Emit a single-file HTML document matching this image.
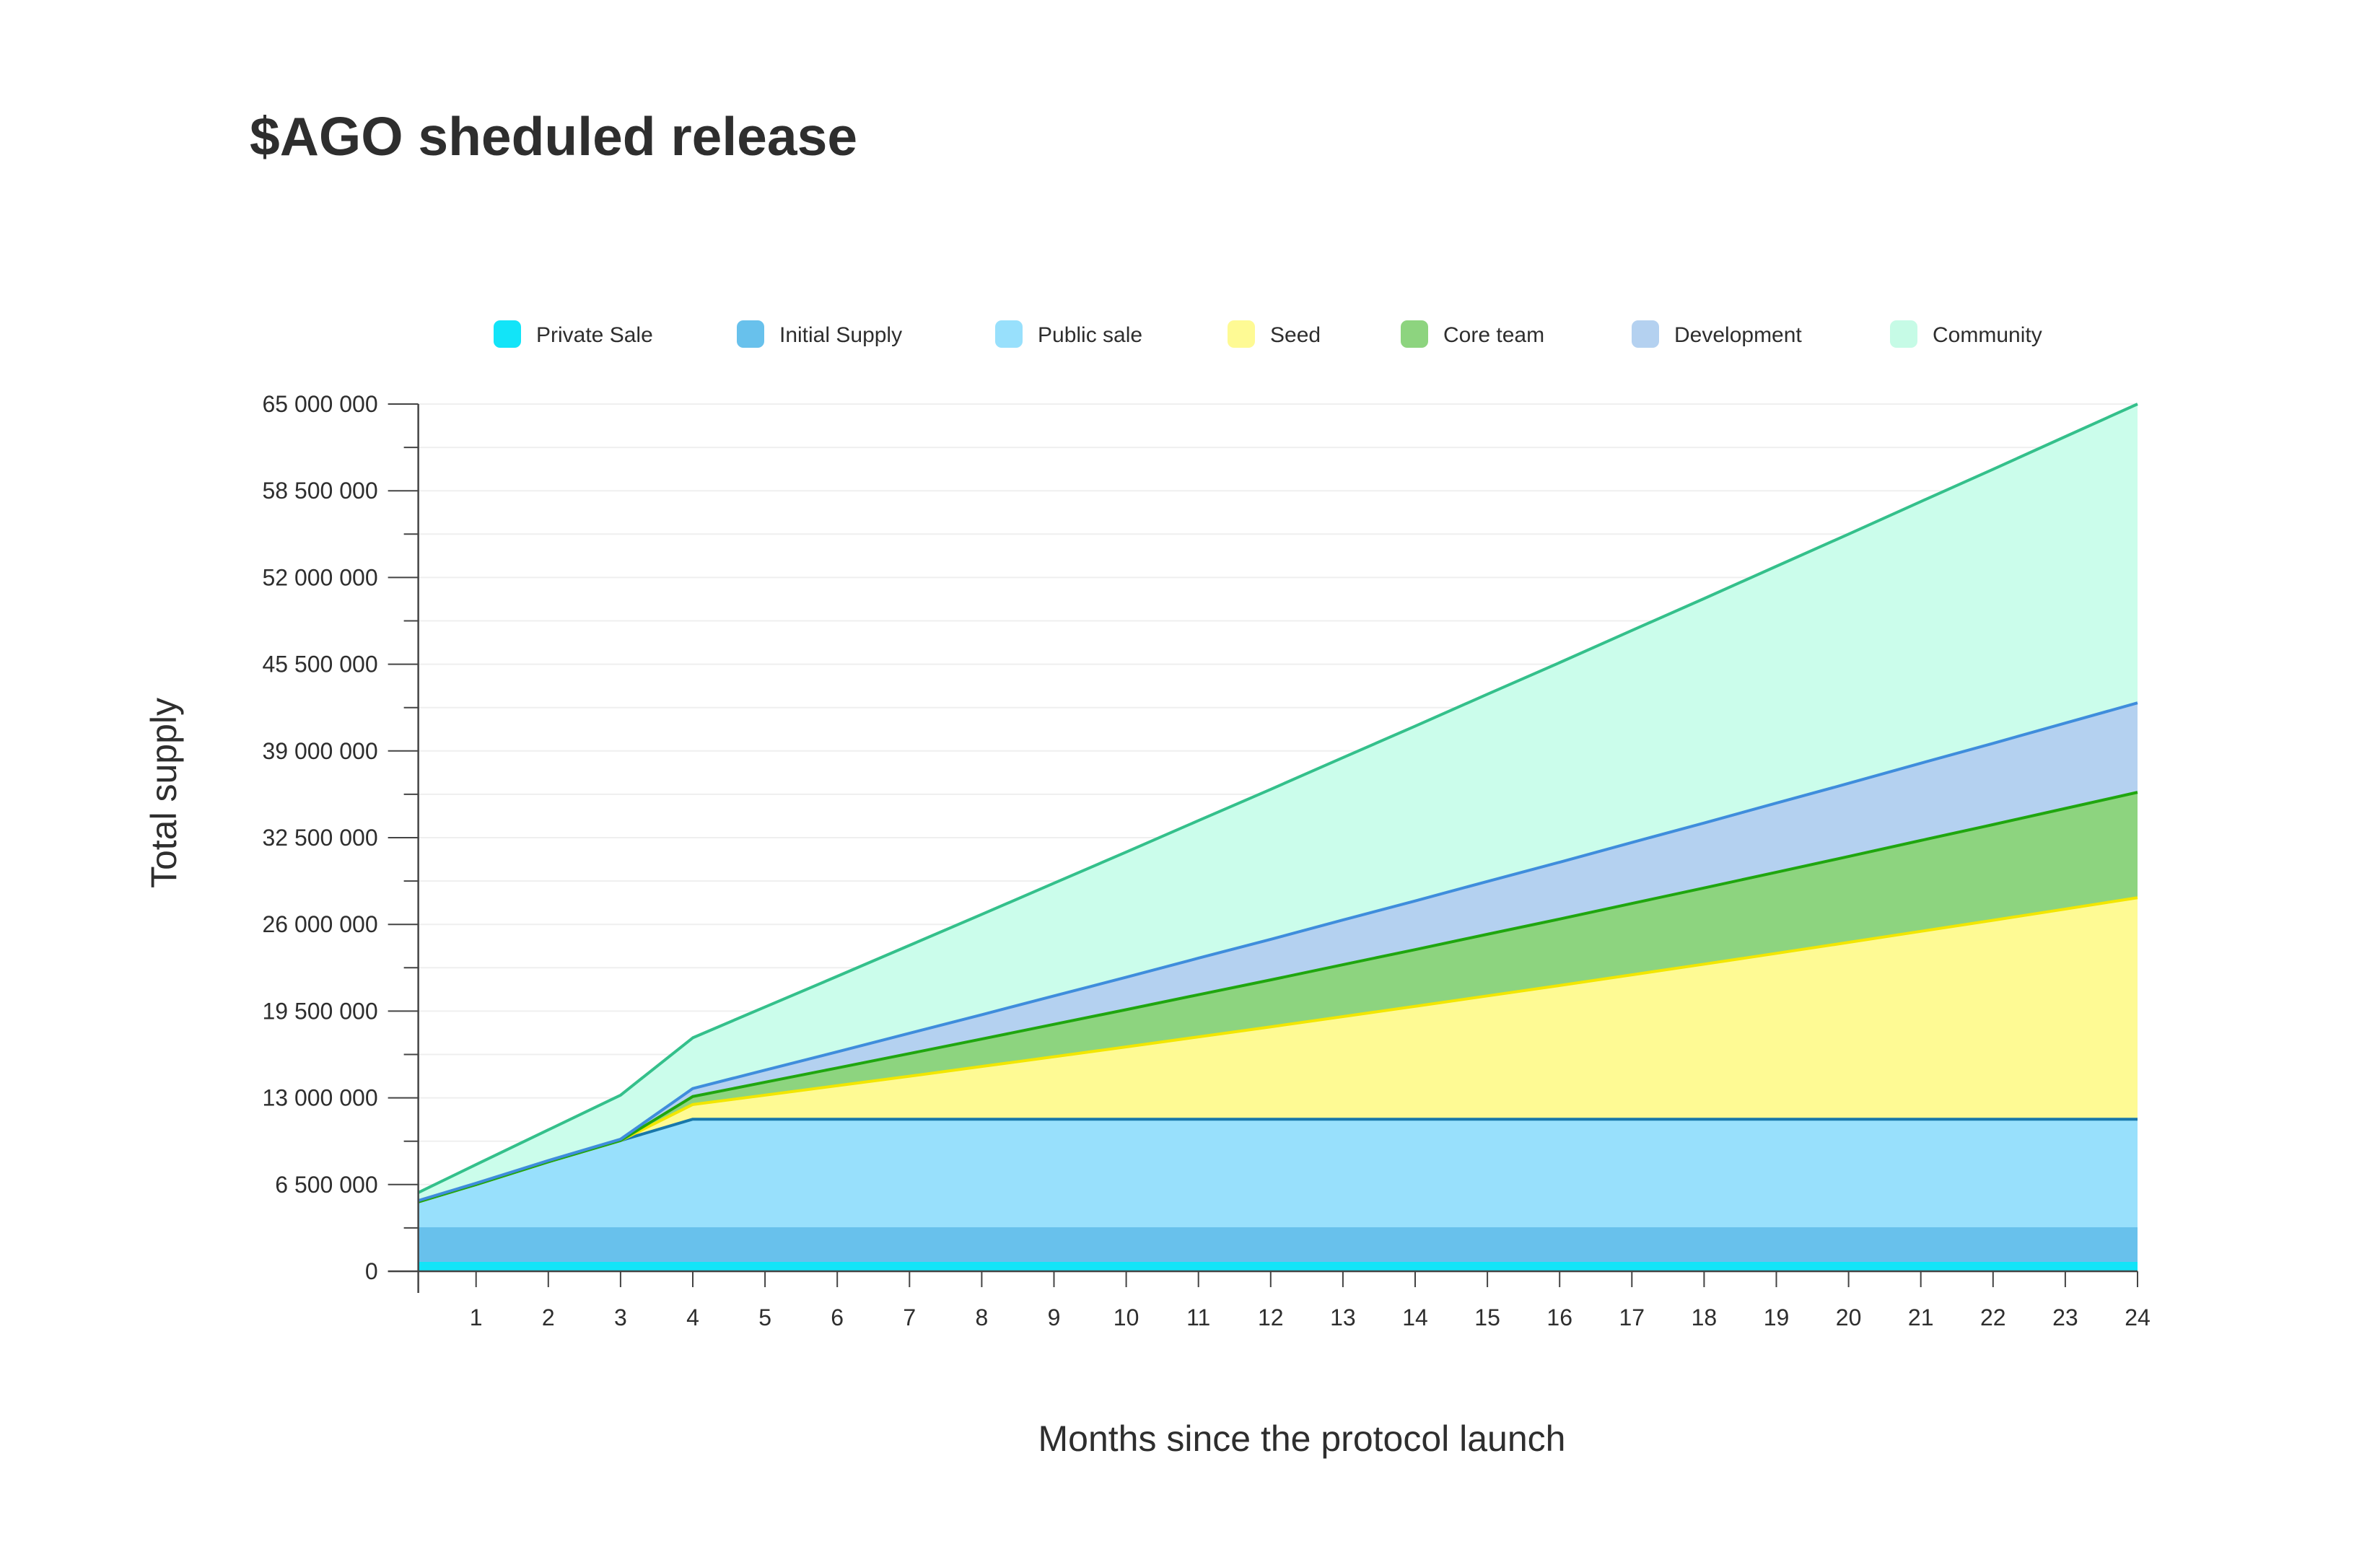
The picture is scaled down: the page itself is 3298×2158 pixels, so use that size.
<!DOCTYPE html>
<html><head><meta charset="utf-8"><style>
html,body{margin:0;padding:0;background:#fff;}
svg{display:block;font-family:"Liberation Sans",sans-serif;}
</style></head><body>
<svg id="chart" width="3298" height="2158" viewBox="0 0 3298 2158" xmlns="http://www.w3.org/2000/svg">
<rect width="3298" height="2158" fill="#fff"/>
<text x="346" y="215" font-size="75" font-weight="bold" fill="#2e2e2e">$AGO sheduled release</text>
<g id="grid"></g><g id="areas"></g><g id="lines"></g><g id="axes"></g><g id="legend"></g>
<text transform="translate(244,1099) rotate(-90)" text-anchor="middle" font-size="50" fill="#2e2e2e">Total supply</text>
<text x="1804" y="2011" text-anchor="middle" font-size="50" fill="#2e2e2e">Months since the protocol launch</text>
</svg>
<script>
const months = [0.2,1,2,3,4,5,6,7,8,9,10,11,12,13,14,15,16,17,18,19,20,21,22,23,24];
const seriesNames = ["Private Sale","Initial Supply","Public sale","Seed","Core team","Development","Community"];
const privateSale = [0.7,0.7,0.7,0.7,0.7,0.7,0.7,0.7,0.7,0.7,0.7,0.7,0.7,0.7,0.7,0.7,0.7,0.7,0.7,0.7,0.7,0.7,0.7,0.7,0.7];
const initialSupply = [2.6,2.6,2.6,2.6,2.6,2.6,2.6,2.6,2.6,2.6,2.6,2.6,2.6,2.6,2.6,2.6,2.6,2.6,2.6,2.6,2.6,2.6,2.6,2.6,2.6];
const publicSale = [1.9,3.2,4.9,6.5,8.1,8.1,8.1,8.1,8.1,8.1,8.1,8.1,8.1,8.1,8.1,8.1,8.1,8.1,8.1,8.1,8.1,8.1,8.1,8.1,8.1];
const seed = [0,0,0,0,1.1,1.8,2.51,3.22,3.95,4.68,5.42,6.17,6.92,7.69,8.46,9.24,10.02,10.82,11.62,12.43,13.25,14.08,14.91,15.75,16.6];
const coreTeam = [0,0,0,0,0.6,0.97,1.33,1.7,2.06,2.43,2.79,3.16,3.52,3.89,4.25,4.62,4.98,5.35,5.71,6.08,6.44,6.81,7.17,7.54,7.9];
const development = [0.1,0.1,0.1,0.1,0.6,0.91,1.21,1.52,1.82,2.13,2.43,2.74,3.04,3.35,3.65,3.96,4.26,4.57,4.87,5.18,5.48,5.79,6.09,6.4,6.7];
const community = [0.6,1.4,2.3,3.3,3.8,4.73,5.66,6.59,7.52,8.45,9.38,10.31,11.24,12.17,13.1,14.03,14.96,15.89,16.82,17.75,18.68,19.61,20.54,21.47,22.4];
const yTickLabels = ["0","6 500 000","13 000 000","19 500 000","26 000 000","32 500 000","39 000 000","45 500 000","52 000 000","58 500 000","65 000 000"];
const yTickValues = [0,6.5,13,19.5,26,32.5,39,45.5,52,58.5,65];
const xTickLabels = ["1","2","3","4","5","6","7","8","9","10","11","12","13","14","15","16","17","18","19","20","21","22","23","24"];

const NS="http://www.w3.org/2000/svg";
const X0=559.6, XS=100.1, Y0=1762, YTOP=560, YMAX=65;
const x=m=>X0+m*XS;
const y=v=>Y0-v/YMAX*(Y0-YTOP);
function mk(tag,attrs,parent){const e=document.createElementNS(NS,tag);for(const k in attrs)e.setAttribute(k,attrs[k]);parent.appendChild(e);return e;}
const G=id=>document.getElementById(id);

const data=[privateSale,initialSupply,publicSale,seed,coreTeam,development,community];
const fills=["#12e4f8","#68c1ec","#98e0fc","#fefa94","#8dd47f","#b4d1f0","#cbfdeb"];
const strokes=[null,null,"#1878ab","#f2e600","#20a60f","#3f8ddc","#34c08b"];
const names=["private-sale","initial-supply","public-sale","seed","core-team","development","community"];

for(let i=1;i<=20;i++){
  const v=i*3.25;
  const l=mk('line',{x1:x(months[0]),x2:x(24),y1:y(v),y2:y(v),stroke:"#efefef","stroke-width":2},G('grid'));
  
  
}
let base=months.map(()=>0);
data.forEach((s,si)=>{
  const top=s.map((v,i)=>base[i]+v);
  let d="M"+months.map((m,i)=>x(m)+","+y(top[i])).join(" L");
  for(let i=months.length-1;i>=0;i--) d+=" L"+x(months[i])+","+y(base[i]);
  d+=" Z";
  const p=mk('path',{d:d,fill:fills[si],stroke:"none"},G('areas'));
  
  
  if(strokes[si]){
    const ld="M"+months.map((m,i)=>x(m)+","+y(top[i])).join(" L");
    const ln=mk('path',{d:ld,fill:"none",stroke:strokes[si],"stroke-width":4,"stroke-linejoin":"round"},G('lines'));
    
    
  }
  base=top;
});
const ax=G('axes');
const axX=x(months[0]);
const ya=mk('line',{x1:axX,x2:axX,y1:y(65),y2:Y0+30,stroke:"#444","stroke-width":2.5},ax);


const xa=mk('line',{x1:axX-42,x2:x(24),y1:Y0,y2:Y0,stroke:"#444","stroke-width":2.5},ax);


for(let i=1;i<=20;i+=2){
  const t=mk('line',{x1:axX-20,x2:axX,y1:y(i*3.25),y2:y(i*3.25),stroke:"#444","stroke-width":2},ax);
  
  
}
yTickValues.forEach((v,i)=>{
  const t=mk('line',{x1:axX-42,x2:axX,y1:y(v),y2:y(v),stroke:"#444","stroke-width":2},ax);
  
  
  const tx=mk('text',{x:axX-56,y:y(v)+11,"text-anchor":"end","font-size":32,fill:"#2e2e2e"},ax);
  tx.textContent=yTickLabels[i];
  
  
});
xTickLabels.forEach((lab,i)=>{
  const m=i+1;
  const t=mk('line',{x1:x(m),x2:x(m),y1:Y0,y2:Y0+22,stroke:"#444","stroke-width":2},ax);
  
  
  const tx=mk('text',{x:x(m),y:Y0+75,"text-anchor":"middle","font-size":32,fill:"#2e2e2e"},ax);
  tx.textContent=lab;
  
  
});
const lx=[684,1021,1379,1701,1941,2261,2619];
const lg=G('legend');
seriesNames.forEach((n,i)=>{
  const g=mk('g',{},lg);
  
  
  mk('rect',{x:lx[i],y:444,width:38,height:38,rx:9,fill:i==6?"#c6fbe6":fills[i]},g);
  const t=mk('text',{x:lx[i]+59,y:474,"font-size":30,fill:"#2e2e2e"},g);
  t.textContent=n;
});
</script>
</body></html>
